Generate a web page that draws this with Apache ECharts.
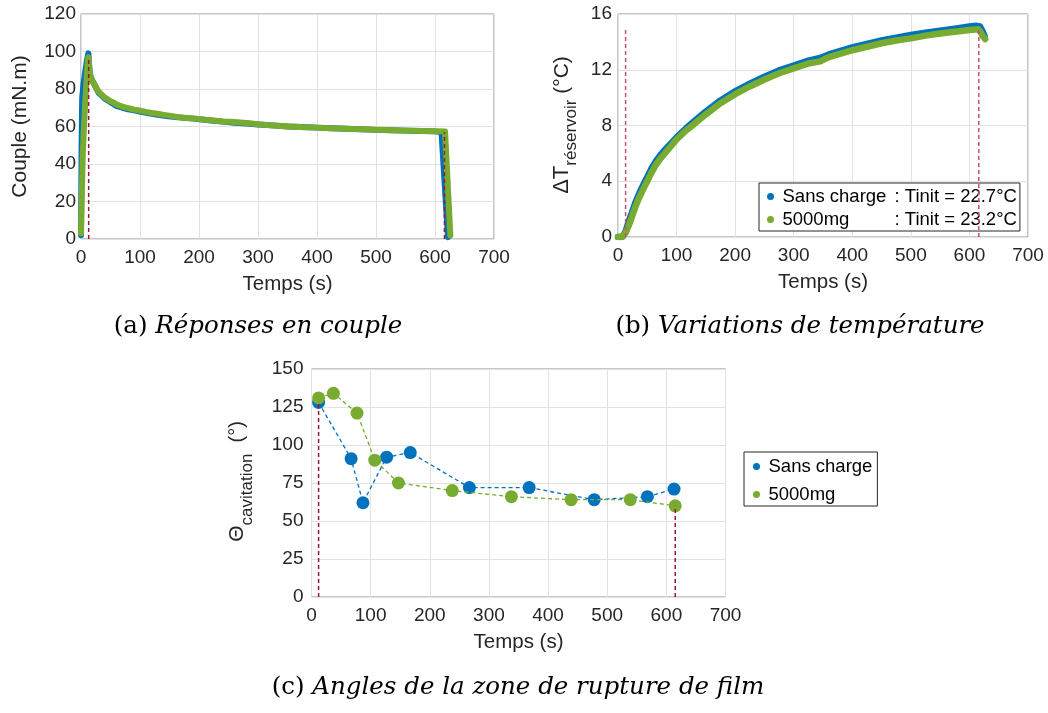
<!DOCTYPE html>
<html><head><meta charset="utf-8">
<script src="https://cdn.jsdelivr.net/npm/echarts@6/dist/echarts.min.js"></script>
<style>html,body{margin:0;padding:0;background:#fff}#c{width:1048px;height:713px}</style>
</head><body><div id="c"></div>
<script>
// ---- (a) torque responses ----
const torqueTimeBlue = [0,0.5,1,2,4,7,10,12.5,13.5,15,17,20,25,30,35,40,45,50,55,60,70,80,90,100,115,130,145,160,175,190,205,220,240,260,280,300,325,350,375,400,425,450,475,500,525,550,575,600,611,622];
const torqueBlue     = [2,25,50,75,82,89,95,99,94,88,86,84,81,78,76.5,75,74,73,72,71,70,69.2,68.6,68,67,66.3,65.6,65,64.6,64.2,63.7,63.2,62.6,62,61.6,61.1,60.6,60,59.7,59.4,59.1,58.8,58.5,58.2,58,57.8,57.6,57.4,57,1];
const torqueTimeGreen = [0,1,2,3,5,7,9,11,12.5,13.5,15,17,20,25,30,35,40,45,50,55,60,65,70,80,90,100,110,120,130,140,150,165,180,195,210,225,240,255,270,285,300,320,340,360,380,400,420,440,460,480,500,520,540,560,580,600,617,626];
const torqueGreen     = [3,18,32,45,60,72,83,93,97,93,88,86,84,81,78.5,77,75.5,74.5,73.5,72.8,71.8,71.2,70.6,69.8,69,68.5,67.8,67.2,66.8,66.2,65.8,65,64.5,64.2,63.6,63.2,62.7,62.5,62.1,61.7,61.2,60.7,60.3,59.9,59.6,59.4,59.1,58.9,58.7,58.5,58.3,58.1,57.9,57.8,57.6,57.5,57.4,2];
// ---- (b) reservoir temperature rise ----
const tempTimeBlue = [0,4,8,11,13,16,20,25,30,37,45,50,57,65,72,80,90,100,115,130,150,175,200,225,250,275,300,325,345,360,380,400,425,450,475,500,525,550,575,600,612,618,622,626];
const tempBlue     = [0,0,0.03,0.1,0.4,0.8,1.3,1.9,2.5,3.2,3.9,4.3,4.9,5.45,5.85,6.25,6.7,7.15,7.75,8.3,9.0,9.8,10.45,11.0,11.5,11.95,12.3,12.65,12.85,13.1,13.35,13.6,13.85,14.1,14.3,14.5,14.65,14.8,14.95,15.1,15.15,15.1,14.8,14.4];
const tempTimeGreen = [0,4,8,11,13,16,20,25,30,37,45,50,57,65,72,80,90,100,115,130,150,175,200,225,250,275,300,325,345,352,360,380,400,425,450,475,500,525,550,575,600,615,619,623,627];
const tempGreen     = [0,0,0.03,0.08,0.3,0.6,1.0,1.6,2.2,2.9,3.6,4.0,4.6,5.2,5.6,6.0,6.5,7.0,7.6,8.1,8.8,9.6,10.25,10.8,11.3,11.75,12.1,12.45,12.6,12.75,12.9,13.15,13.4,13.65,13.9,14.1,14.25,14.45,14.6,14.72,14.85,14.9,14.7,14.4,14.2];
// ---- (c) cavitation angles ----
const angleTimeBlue = [12,67,87,127,167,267,368,478,568,613];
const angleBlue     = [128,91,62,92,95,72,72,64,66,71];
const angleTimeGreen = [12,37,77,107,147,238,338,439,539,615];
const angleGreen     = [131,134,121,90,75,70,66,64,64,60];
// ---- red dashed markers (start / stop) ----
const cutTimesAB = [13,616];
const cutTorque  = [97,57];
const cutTemp    = [15,15];
const cutTimesC  = [12,615];
const cutAngle   = [128,60];
// ---- labels ----
const legendTemp = [['Sans charge',': Tinit = 22.7°C'],['5000mg',': Tinit = 23.2°C']];
const legendAngle = ['Sans charge','5000mg'];
const captions = [['(a) ','Réponses en couple'],['(b) ','Variations de température'],['(c) ','Angles de la zone de rupture de film']];
const yTitleB = ['ΔT','réservoir',' (°C)'];
const yTitleC = ['Θ','cavitation','  (°)'];

const BLUE='#0072BD', GREEN='#77AC30', RED='#A2142F', TXT='#262626';
const FONT='Liberation Sans';
const zip=(a,b)=>a.map((t,i)=>[t,b[i]]);

const grids=[
 {left:81,top:14,width:413,height:225},
 {left:618,top:14,width:410,height:223},
 {left:311.5,top:369,width:414,height:228}
].map(g=>Object.assign(g,{show:true,borderColor:'#8f8f8f',borderWidth:1,backgroundColor:'#fff'}));

const xAxes=[0,1,2].map(i=>({gridIndex:i,type:'value',min:0,max:700,interval:100,
 name:'Temps (s)',nameLocation:'middle',nameGap:35,
 nameTextStyle:{fontSize:20.5,color:TXT,fontFamily:FONT},
 axisLine:{show:false},axisTick:{show:false},
 axisLabel:{fontSize:19,color:TXT,fontFamily:FONT,margin:9},
 splitLine:{lineStyle:{color:'#e2e2e2'}}}));

const yBase={type:'value',nameLocation:'middle',axisLine:{show:false},axisTick:{show:false},
 splitLine:{lineStyle:{color:'#e2e2e2'}}};
const yLab=m=>({fontSize:19,color:TXT,fontFamily:FONT,margin:m});
const yAxes=[
 Object.assign({},yBase,{gridIndex:0,min:0,max:120,interval:20,axisLabel:yLab(5),name:'Couple (mN.m)',nameGap:50,
   nameTextStyle:{fontSize:21,color:TXT,fontFamily:FONT}}),
 Object.assign({},yBase,{gridIndex:1,min:0,max:16,interval:4,axisLabel:yLab(6)}),
 Object.assign({},yBase,{gridIndex:2,min:0,max:150,interval:25,axisLabel:yLab(8)})
];

const thick=(name,xi,data,color,w)=>({name,type:'line',xAxisIndex:xi,yAxisIndex:xi,data,showSymbol:false,
 lineStyle:{color,width:w,cap:'round',join:'round'},itemStyle:{color},silent:true});
const cutSeries=(xi,times,hs,color)=>times.map((t,i)=>({name:'cut'+xi+'_'+i,type:'line',xAxisIndex:xi,yAxisIndex:xi,
 data:[[t,0],[t,hs[i]]],showSymbol:false,z:5,lineStyle:{color,width:1.5,type:[4,3]},silent:true}));

const series=[
 thick('aS',0,zip(torqueTimeBlue,torqueBlue),BLUE,6),
 thick('aG',0,zip(torqueTimeGreen,torqueGreen),GREEN,6),
 ...cutSeries(0,cutTimesAB,cutTorque,RED),
 thick('bS',1,zip(tempTimeBlue,tempBlue),BLUE,6.5),
 thick('bG',1,zip(tempTimeGreen,tempGreen),GREEN,6.5),
 ...cutSeries(1,cutTimesAB,cutTemp,'#c4506c'),
 ...cutSeries(2,cutTimesC,cutAngle,RED),
 {name:legendAngle[0],type:'line',xAxisIndex:2,yAxisIndex:2,data:zip(angleTimeBlue,angleBlue),symbol:'circle',symbolSize:13,
  lineStyle:{color:BLUE,width:1.3,type:[4,3]},itemStyle:{color:BLUE},z:3},
 {name:legendAngle[1],type:'line',xAxisIndex:2,yAxisIndex:2,data:zip(angleTimeGreen,angleGreen),symbol:'circle',symbolSize:13,
  lineStyle:{color:GREEN,width:1.3,type:[4,3]},itemStyle:{color:GREEN},z:4}
];

const legTempMap={bS:legendTemp[0],bG:legendTemp[1]};
const legends=[
 {left:759,top:183,orient:'vertical',itemWidth:14,itemHeight:7,itemGap:4,padding:[4,3,2,8],
  borderColor:'#262626',borderWidth:1,backgroundColor:'#fff',selectedMode:false,
  data:[{name:'bS',icon:'circle',itemStyle:{color:BLUE}},{name:'bG',icon:'circle',itemStyle:{color:GREEN}}],
  formatter:n=>'{n|'+legTempMap[n][0]+'}{r|'+legTempMap[n][1]+'}',
  textStyle:{fontSize:18.5,color:'#000',fontFamily:FONT,rich:{
   n:{fontSize:18.5,color:'#000',fontFamily:FONT,width:112},
   r:{fontSize:18.5,color:'#000',fontFamily:FONT}}}},
 {left:744,top:452,orient:'vertical',itemWidth:14,itemHeight:7,itemGap:9,padding:[5,5,2,9],
  borderColor:'#262626',borderWidth:1,backgroundColor:'#fff',selectedMode:false,
  data:[{name:legendAngle[0],icon:'circle',itemStyle:{color:BLUE}},{name:legendAngle[1],icon:'circle',itemStyle:{color:GREEN}}],
  textStyle:{fontSize:18.5,color:'#000',fontFamily:FONT}}
];

// rotated y titles with subscripts (text laid out along the axis, reading upward)
const mctx=document.createElement('canvas').getContext('2d');
const tw=(s,fs)=>{mctx.font=fs+'px "'+FONT+'"';return mctx.measureText(s).width;};
function subTitle(parts,sizes,cols,centerY){
 const w=parts.map((p,i)=>tw(p,sizes[i]));
 const total=w.reduce((a,b)=>a+b,0);
 let y=centerY+total/2;
 return parts.map((p,i)=>{const el={type:'text',x:cols[i],y:y,rotation:Math.PI/2,
   style:{text:p,fontFamily:FONT,fontSize:sizes[i],fill:TXT,align:'left',verticalAlign:'middle'}};
   y-=w[i];return el;});
}
const titleEls=[
 ...subTitle(yTitleB,[22,17,21],[562,571.5,562],125),
 ...subTitle(yTitleC,[21,17,20],[237,247.5,237],481.5)
];

const capPos=[[258,327],[800,327],[518,688]];
const capEls=captions.map((c,i)=>({type:'text',x:capPos[i][0],y:capPos[i][1],
 style:{text:'{n|'+c[0]+'}{i|'+c[1]+'}',align:'center',verticalAlign:'middle',
  rich:{n:{fontFamily:'DejaVu Serif',fontSize:24.5,fill:'#000'},
        i:{fontFamily:'DejaVu Serif',fontStyle:'italic',fontSize:24.5,fill:'#000'}}}}));

const chart=echarts.init(document.getElementById('c'));
chart.setOption({animation:false,backgroundColor:'#fff',grid:grids,xAxis:xAxes,yAxis:yAxes,series,legend:legends,graphic:[...titleEls,...capEls]});
</script></body></html>
